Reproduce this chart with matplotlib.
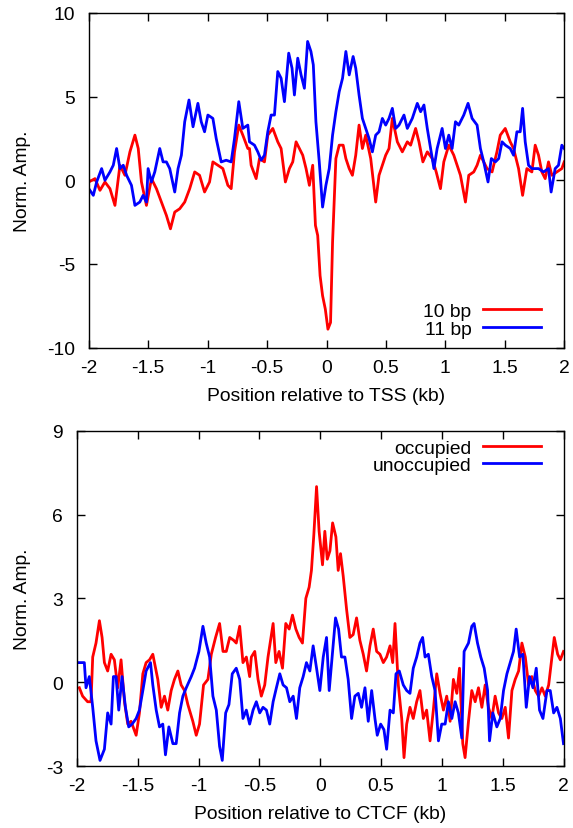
import matplotlib
matplotlib.use("Agg")
import matplotlib.pyplot as plt

plt.rcParams['font.family'] = ['Liberation Sans', 'DejaVu Sans']

# ---------------- Top panel: TSS ----------------
tss_x_10bp = [-2.000, -1.948, -1.906, -1.864, -1.822, -1.780, -1.738, -1.696, -1.654, -1.612,
              -1.584, -1.557, -1.515, -1.473, -1.431, -1.389, -1.347, -1.313, -1.277, -1.235,
              -1.193, -1.151, -1.109, -1.068, -1.026, -0.984, -0.956, -0.914, -0.872, -0.830,
              -0.802, -0.774, -0.738, -0.704, -0.662,
              -0.648, -0.634, -0.592, -0.564, -0.522, -0.494, -0.452, -0.410, -0.382, -0.346,
              -0.312, -0.284, -0.256, -0.228, -0.200, -0.172, -0.144, -0.116, -0.093, -0.074,
              -0.054, -0.033, -0.010, 0.012, 0.034, 0.051, 0.079, 0.107, 0.140, 0.163,
              0.191, 0.218, 0.246, 0.274, 0.302, 0.330, 0.372, 0.414, 0.442, 0.470,
              0.498, 0.526, 0.554, 0.596, 0.638, 0.680,
              0.708, 0.750, 0.778, 0.811, 0.848, 0.890, 0.923, 0.959, 0.987, 1.029,
              1.071, 1.099, 1.127, 1.169, 1.197, 1.239, 1.267, 1.295, 1.323, 1.351,
              1.393, 1.434, 1.462, 1.504, 1.546, 1.574, 1.616, 1.650, 1.686, 1.728,
              1.756, 1.784, 1.812, 1.840, 1.868, 1.896, 1.938, 1.980, 2.000]
tss_y_10bp = [-0.1, 0.1, -0.6, -0.1, -0.5, -1.5, 0.9, 0.3, 1.7, 2.7,
              1.9, -0.1, -1.5, 0.1, -0.5, -1.3, -2.1, -2.9, -1.9, -1.7,
              -1.3, -0.5, 0.5, 0.3, -0.7, -0.1, 1.1, 0.9, 0.7, -0.3,
              -0.5, 1.7, 3.3, 2.7, 1.9,
              1.9, 0.9, 0.1, 1.3, 1.1, 2.7, 3.1, 2.3, 1.9, -0.1,
              0.7, 1.1, 2.3, 1.9, 1.5, 0.7, -0.3, 0.9, -2.7, -3.3,
              -5.7, -6.9, -7.7, -8.9, -8.5, -3.7, 1.3, 2.1, 2.1, 1.3,
              0.7, 0.3, 1.5, 3.3, 1.9, 2.7, 1.3, -1.3, 0.3, 0.9,
              1.5, 1.9, 3.7, 2.3, 1.7, 2.3,
              2.1, 3.1, 2.3, 1.1, 1.7, 1.3, 0.5, -0.5, 1.1, 2.1,
              1.5, 0.9, 0.3, -1.3, 0.3, 0.5, 0.9, 1.5, 1.1, 0.7,
              0.5, 1.7, 2.7, 3.1, 2.3, 1.9, 0.7, -0.9, 0.7, 0.5,
              2.1, 1.5, 0.5, 0.1, 1.1, 0.3, 0.5, 0.7, 1.1]

tss_x_11bp = [-2.000, -1.962, -1.934, -1.892, -1.864, -1.822, -1.794, -1.766, -1.738, -1.710,
              -1.682, -1.641, -1.612, -1.571, -1.543, -1.515, -1.501, -1.473, -1.445, -1.403,
              -1.375, -1.347, -1.319, -1.277, -1.249, -1.221, -1.193, -1.157, -1.123, -1.082,
              -1.054, -1.026, -0.998, -0.956, -0.928, -0.886, -0.844, -0.802, -0.774, -0.738,
              -0.704, -0.662,
              -0.648, -0.606, -0.578, -0.550, -0.522, -0.494, -0.466, -0.438, -0.410, -0.382,
              -0.354, -0.318, -0.290, -0.270, -0.242, -0.214, -0.186, -0.159, -0.131, -0.111,
              -0.089, -0.061, -0.033, -0.005, 0.023, 0.051, 0.079, 0.107, 0.135, 0.163,
              0.191, 0.224, 0.246, 0.274, 0.302, 0.330, 0.358, 0.386, 0.414, 0.442,
              0.470, 0.498, 0.526, 0.554, 0.582, 0.610, 0.652, 0.680,
              0.722, 0.764, 0.792, 0.820, 0.848, 0.876, 0.904, 0.931, 0.973, 1.001,
              1.029, 1.057, 1.085, 1.113, 1.155, 1.191, 1.225, 1.267, 1.295, 1.323,
              1.359, 1.387, 1.421, 1.449, 1.477, 1.505, 1.546, 1.574, 1.602, 1.630,
              1.650, 1.672, 1.700, 1.728, 1.784, 1.826, 1.868, 1.890, 1.924, 1.952,
              1.980, 2.000]
tss_y_11bp = [-0.5, -0.9, -0.1, 0.7, 0.0, 0.5, 0.9, 1.9, 0.7, 0.9,
              0.3, -0.3, -1.5, -1.3, -0.9, -1.3, 0.7, -0.1, 0.5, 1.9,
              1.1, 1.1, 0.7, -0.7, 0.7, 1.5, 3.5, 4.8, 3.2, 4.6,
              3.5, 2.9, 3.9, 3.7, 2.5, 1.1, 1.2, 1.1, 2.5, 4.7,
              3.1, 3.3,
              2.3, 2.1, 1.7, 1.2, 1.5, 2.9, 3.9, 3.9, 6.5, 6.1,
              4.7, 7.6, 6.7, 5.1, 7.3, 6.3, 5.5, 8.3, 7.7, 6.9,
              3.5, 1.1, -1.6, -0.3, 0.7, 2.7, 4.1, 5.3, 6.1, 7.7,
              6.3, 7.4, 6.7, 5.1, 3.7, 3.1, 2.5, 1.7, 2.7, 2.9,
              3.7, 3.3, 3.7, 4.3, 3.1, 3.3, 3.9, 3.1,
              3.7, 4.6, 4.1, 4.5, 3.1, 1.9, 0.7, 1.9, 3.1, 1.9,
              2.7, 1.9, 3.5, 3.3, 3.9, 4.6, 3.7, 3.3, 1.9, 1.1,
              -0.1, 1.3, 1.1, 1.3, 2.3, 2.1, 1.9, 1.5, 2.9, 2.9,
              4.3, 2.3, 0.9, 0.7, 0.7, 0.5, 0.7, -0.7, 0.7, 0.9,
              2.1, 1.9]

# ---------------- Bottom panel: CTCF ----------------
ctcf_x_occ = [-1.980, -1.953, -1.912, -1.884, -1.870, -1.843, -1.815, -1.793, -1.774, -1.747,
              -1.719, -1.692, -1.664, -1.637, -1.609, -1.582, -1.555, -1.513, -1.486, -1.458,
              -1.431, -1.403, -1.376, -1.335, -1.307, -1.280, -1.253, -1.225, -1.198, -1.170,
              -1.143, -1.115, -1.088, -1.047, -1.019, -0.992, -0.959, -0.923, -0.895, -0.860,
              -0.827, -0.799, -0.772, -0.744, -0.712, -0.690, -0.662, -0.635, -0.607, -0.580,
              -0.566, -0.538, -0.511, -0.484, -0.456, -0.429, -0.387, -0.365, -0.338, -0.310,
              -0.283, -0.255, -0.228, -0.200, -0.173, -0.146, -0.118, -0.091, -0.072, -0.052,
              -0.030, -0.009, 0.019, 0.038, 0.058, 0.080, 0.102, 0.129, 0.148, 0.167,
              0.189, 0.217, 0.244, 0.271, 0.299, 0.326, 0.354, 0.381, 0.409, 0.436,
              0.464, 0.491, 0.519, 0.546, 0.574, 0.596, 0.615, 0.642, 0.670, 0.689,
              0.711, 0.738,
              0.765, 0.793, 0.820, 0.848, 0.875, 0.903, 0.930, 0.958, 0.985, 1.013,
              1.040, 1.068, 1.095, 1.123, 1.145, 1.172, 1.191, 1.219, 1.246, 1.274,
              1.301, 1.329, 1.356, 1.383, 1.411, 1.438, 1.466, 1.493, 1.521, 1.548,
              1.576, 1.603, 1.631, 1.658, 1.686, 1.713, 1.740, 1.768, 1.795, 1.823,
              1.850, 1.878, 1.905, 1.924, 1.952, 1.974, 2.000]
ctcf_y_occ = [-0.2, -0.5, -0.7, -0.7, 0.9, 1.4, 2.2, 1.6, 0.7, 0.4,
              1.0, 0.8, -0.2, 0.8, -0.7, -1.5, -1.4, -1.9, -1.1, 0.3,
              0.7, 0.8, 1.0, 0.1, -0.9, -0.5, -1.0, -0.3, 0.1, 0.4,
              -0.1, -0.3, -0.8, -1.4, -1.9, -1.5, -0.1, 0.1, 1.0, 1.6,
              2.1, 1.1, 1.1, 1.6, 1.5, 1.4, 2.0, 0.7, 0.9, 0.2,
              0.9, 1.1, 0.1, -0.5, -0.1, 0.9, 2.1, 0.7, 1.1, 0.5,
              2.1, 1.9, 2.4, 1.9, 1.6, 1.4, 3.0, 3.4, 4.0, 5.3,
              7.0, 5.4, 4.2, 5.4, 4.4, 4.7, 5.7, 5.2, 4.0, 4.6,
              3.8, 2.6, 1.6, 1.7, 2.3, 1.5, 1.0, 0.4, 1.3, 1.9,
              1.1, 1.0, 0.7, 0.9, 1.3, 0.7, 2.1, -0.1, -1.3, -2.7,
              -1.5, -0.9,
              -1.3, -0.7, -0.3, -1.3, -1.0, -2.1, -1.0, 0.3, -0.4, -1.0,
              -0.5, -1.4, 0.1, -0.4, 0.5, -2.2, -2.7, -1.4, -0.3, -0.7,
              -0.2, -0.9, -0.1, -0.9, -1.3, -0.5, -1.1, -1.3, -0.9, -2.0,
              -0.3, 0.1, 0.4, 1.4, 0.9, -0.1, 0.2, -0.3, -0.5, -0.2,
              -0.5, -0.1, 0.9, 1.6, 1.0, 0.8, 1.1]

ctcf_x_unocc = [-1.980, -1.939, -1.925, -1.898, -1.870, -1.843, -1.810, -1.774, -1.747, -1.719,
                -1.700, -1.678, -1.656, -1.629, -1.601, -1.574, -1.546, -1.513, -1.486, -1.458,
                -1.431, -1.395, -1.376, -1.348, -1.321, -1.294, -1.272, -1.244, -1.211, -1.184,
                -1.156, -1.129, -1.101, -1.060, -1.033, -0.997, -0.964, -0.937, -0.909, -0.882,
                -0.854, -0.827, -0.805, -0.777, -0.750, -0.723, -0.690, -0.662, -0.635, -0.607,
                -0.580,
                -0.552, -0.525, -0.497, -0.470, -0.442, -0.415, -0.387, -0.360, -0.332, -0.305,
                -0.277, -0.250, -0.222, -0.195, -0.168, -0.140, -0.113, -0.085, -0.058, -0.030,
                -0.003, 0.025, 0.052, 0.074, 0.102, 0.126, 0.151, 0.175, 0.203, 0.230,
                0.258, 0.285, 0.313, 0.340, 0.368, 0.395, 0.423, 0.450, 0.469, 0.497,
                0.524, 0.546, 0.574, 0.601, 0.623, 0.650, 0.683, 0.711, 0.738,
                0.765, 0.793, 0.820, 0.842, 0.862, 0.889, 0.917, 0.944, 0.972, 0.999,
                1.027, 1.054, 1.082, 1.109, 1.136, 1.164, 1.183, 1.219, 1.246, 1.265,
                1.293, 1.320, 1.348, 1.376, 1.392, 1.419, 1.452, 1.480, 1.507, 1.535,
                1.562, 1.589, 1.611, 1.639, 1.666, 1.694, 1.721, 1.749, 1.776, 1.803,
                1.831, 1.864, 1.891, 1.919, 1.946, 1.974, 2.000]
ctcf_y_unocc = [0.7, 0.7, -0.2, 0.2, -0.9, -2.1, -2.8, -2.4, -1.1, -1.5,
                0.2, 0.2, -1.0, 0.2, -0.9, -1.6, -1.5, -1.3, -1.0, -0.3,
                0.4, 0.7, -0.1, -1.0, -1.6, -1.5, -2.6, -1.6, -2.2, -2.2,
                -1.1, -0.5, -0.2, 0.2, 0.5, 1.1, 2.0, 1.4, 0.9, -0.5,
                -1.0, -2.3, -2.8, -1.1, -0.8, 0.3, 0.5, 0.1, -1.3, -1.0,
                -1.5,
                -1.0, -0.7, -1.1, -0.9, -1.0, -1.5, -0.7, -0.2, 0.3, -0.1,
                -0.2, -0.7, -0.5, -1.3, -0.2, 0.2, 0.7, 0.4, 1.3, 0.5,
                -0.3, 0.9, 1.6, -0.3, 1.1, 2.3, 1.9, 0.9, 0.9, 0.1,
                -1.3, -0.5, -0.4, -0.9, -0.2, -1.4, -0.3, -1.3, -1.9, -1.5,
                -1.7, -2.4, -1.0, -1.1, 0.3, 0.4, -0.1, -0.3, -0.4,
                0.5, 0.9, 1.4, 1.6, 0.9, 1.0, 0.2, -0.3, -2.1, -1.5,
                -1.5, -0.7, -1.3, -0.7, -1.1, -2.0, 1.1, 1.4, 2.0, 2.1,
                1.4, 0.9, 0.5, -0.3, -2.1, -1.1, -1.6, -1.3, -0.3, 0.3,
                0.7, 1.1, 1.9, 0.9, 1.0, -0.9, 0.2, -0.2, 0.5, -1.0,
                -1.3, -0.3, -0.3, -1.1, -0.9, -1.3, -2.2]

x_ticks = [-2, -1.5, -1, -0.5, 0, 0.5, 1, 1.5, 2]
x_tick_labels = ['-2', '-1.5', '-1', '-0.5', '0', '0.5', '1', '1.5', '2']
tss_y_ticks = [-10, -5, 0, 5, 10]
tss_y_tick_labels = ['-10', '-5', '0', '5', '10']
ctcf_y_ticks = [-3, 0, 3, 6, 9]
ctcf_y_tick_labels = ['-3', '0', '3', '6', '9']

RED = '#ff0000'
BLUE = '#0000ff'
FS = 13.9
LW = 2.0

W, H = 573, 829
fig = plt.figure(figsize=(W / 100, H / 100), dpi=100)

def px_axes(left, right, top, bottom):
    return fig.add_axes([left / W, 1 - bottom / H, (right - left) / W, (bottom - top) / H])

def style(ax):
    for s in ax.spines.values():
        s.set_linewidth(1.0)
        s.set_color('black')
    ax.tick_params(direction='in', length=6, width=1.0, top=True, right=True,
                   labelsize=FS, color='black')
    ax.tick_params(axis='x', pad=8)
    ax.tick_params(axis='y', pad=10)

# top
ax1 = px_axes(88.8, 564.2, 14, 348.6)
ax1.plot(tss_x_10bp, tss_y_10bp, color=RED, lw=LW, label='10 bp')
ax1.plot(tss_x_11bp, tss_y_11bp, color=BLUE, lw=LW, label='11 bp')
ax1.set_xlim(-2, 2)
ax1.set_ylim(-10, 10)
ax1.set_xticks(x_ticks)
ax1.set_xticklabels(x_tick_labels)
ax1.set_yticks(tss_y_ticks)
ax1.set_yticklabels(tss_y_tick_labels)
style(ax1)
ax1.set_xlabel('Position relative to TSS (kb)', fontsize=FS, labelpad=8)
ax1.set_ylabel('Norm. Amp.', fontsize=FS)
ax1.yaxis.set_label_coords((31 - 88.8) / (564.2 - 88.8), 0.5)
ax1.legend(loc='lower right', bbox_to_anchor=((541 - 88.8) / (564.2 - 88.8), 0.03),
           frameon=False, markerfirst=False, fontsize=FS, handlelength=3.0,
           handletextpad=0.6, labelspacing=0.0, borderpad=0, borderaxespad=0)

# bottom
ax2 = px_axes(76.9, 563.5, 431.7, 767)
ax2.plot(ctcf_x_occ, ctcf_y_occ, color=RED, lw=LW, label='occupied')
ax2.plot(ctcf_x_unocc, ctcf_y_unocc, color=BLUE, lw=LW, label='unoccupied')
ax2.set_xlim(-2, 2)
ax2.set_ylim(-3, 9)
ax2.set_xticks(x_ticks)
ax2.set_xticklabels(x_tick_labels)
ax2.set_yticks(ctcf_y_ticks)
ax2.set_yticklabels(ctcf_y_tick_labels)
style(ax2)
ax2.set_xlabel('Position relative to CTCF (kb)', fontsize=FS, labelpad=8)
ax2.set_ylabel('Norm. Amp.', fontsize=FS)
ax2.yaxis.set_label_coords((31 - 76.9) / (563.5 - 76.9), 0.5)
ax2.legend(loc='upper right', bbox_to_anchor=((541 - 76.9) / (563.5 - 76.9), 0.975),
           frameon=False, markerfirst=False, fontsize=FS, handlelength=3.0,
           handletextpad=0.6, labelspacing=0.0, borderpad=0, borderaxespad=0)

fig.savefig('out.png', dpi=100)
